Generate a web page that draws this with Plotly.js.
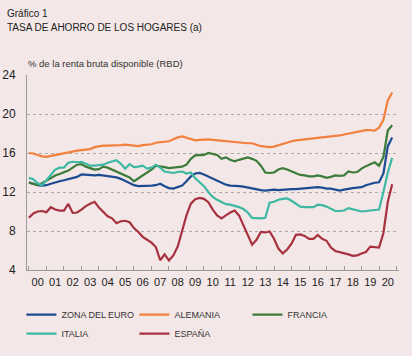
<!DOCTYPE html>
<html>
<head>
<meta charset="utf-8">
<script src="https://cdn.plot.ly/plotly-3.0.1.min.js"></script>
<style>
html,body{margin:0;padding:0;background:#F3E7E7;}
#chart{width:412px;height:356px;}
</style>
</head>
<body>
<div id="chart"></div>
<script>
// Years 2000..2020, quarterly observations (4 per year)
const years = [2000,2001,2002,2003,2004,2005,2006,2007,2008,2009,2010,2011,2012,2013,2014,2015,2016,2017,2018,2019,2020];
const yearLabels = ["00","01","02","03","04","05","06","07","08","09","10","11","12","13","14","15","16","17","18","19","20"];

const zonaEuro = [
  13.0,12.85,12.7,12.65, 12.7,12.85,13.0,13.1, 13.2,13.3,13.4,13.55, 13.8,13.75,13.7,13.7,
  13.75,13.7,13.65,13.6, 13.5,13.35,13.15,12.95, 12.7,12.6,12.6,12.65, 12.65,12.7,12.85,12.6,
  12.4,12.35,12.5,12.65, 13.1,13.6,13.9,13.95, 13.8,13.6,13.4,13.2, 12.95,12.75,12.65,12.65,
  12.6,12.55,12.45,12.35, 12.25,12.2,12.15,12.2, 12.25,12.2,12.25,12.3, 12.3,12.3,12.35,12.35,
  12.4,12.45,12.5,12.45, 12.35,12.35,12.25,12.15, 12.25,12.35,12.4,12.45, 12.5,12.7,12.85,12.95,
  13.0,13.9,16.7,17.6
];
const alemania = [
  16.0,15.95,15.8,15.65, 15.6,15.7,15.8,15.9, 16.0,16.1,16.2,16.25, 16.3,16.35,16.4,16.6,
  16.7,16.75,16.75,16.75, 16.8,16.8,16.85,16.8, 16.75,16.7,16.8,16.85, 16.9,17.05,17.1,17.15,
  17.2,17.4,17.6,17.7, 17.55,17.4,17.3,17.35, 17.4,17.4,17.35,17.3, 17.25,17.2,17.15,17.1,
  17.05,17.05,17.0,17.0, 16.85,16.7,16.65,16.6, 16.65,16.8,16.95,17.1, 17.2,17.3,17.35,17.4,
  17.45,17.5,17.55,17.55, 17.6,17.65,17.7,17.8, 17.9,18.0,18.1,18.2, 18.3,18.35,18.35,18.3,
  18.6,19.4,21.4,22.2
];
const francia = [
  12.95,12.8,12.7,12.9, 13.15,13.4,13.7,13.85, 14.0,14.2,14.5,14.8, 14.85,14.6,14.45,14.3,
  14.35,14.6,14.5,14.3, 14.1,13.9,13.75,13.5, 13.1,13.4,13.7,14.0, 14.3,14.7,14.65,14.55,
  14.45,14.5,14.55,14.6, 14.8,15.4,15.75,15.8, 15.8,16.0,15.9,15.8, 15.4,15.55,15.3,15.15,
  15.3,15.4,15.55,15.4, 15.2,14.7,14.0,13.95, 14.0,14.3,14.45,14.3, 14.1,13.9,13.75,13.7,
  13.6,13.6,13.7,13.6, 13.45,13.55,13.7,13.65, 13.7,14.1,14.0,14.05, 14.4,14.65,14.85,15.05,
  14.7,15.6,18.3,18.85
];
const italia = [
  13.45,13.3,12.9,12.7, 13.2,13.8,14.3,14.5, 14.5,15.0,15.1,15.05, 15.1,14.9,14.7,14.7,
  14.75,14.8,15.0,15.15, 15.25,14.9,14.4,14.85, 14.55,14.6,14.7,14.4, 14.5,14.8,14.5,14.1,
  14.0,13.95,14.05,14.1, 13.9,14.0,13.4,13.0, 12.6,12.0,11.5,11.2, 10.95,10.75,10.7,10.6,
  10.45,10.25,9.9,9.35, 9.3,9.3,9.35,10.9, 11.0,11.2,11.3,11.35, 11.1,10.8,10.5,10.45,
  10.45,10.45,10.7,10.65, 10.5,10.3,10.05,10.05, 10.1,10.35,10.25,10.1, 10.0,10.05,10.1,10.1,
  10.2,12.0,14.0,15.5
];
const espana = [
  9.35,9.8,10.0,10.05, 9.93,10.44,10.2,10.1, 10.1,10.78,9.86,9.9, 10.2,10.55,10.8,11.0,
  10.4,10.0,9.5,9.3, 8.8,9.0,9.05,8.9, 8.3,7.9,7.4,7.1, 6.8,6.35,5.0,5.6,
  4.98,5.5,6.4,8.0, 9.6,10.8,11.25,11.4, 11.3,10.96,10.2,9.6, 9.3,9.6,9.9,10.1,
  9.6,8.6,7.6,6.6, 7.1,7.9,7.85,7.95, 7.2,6.2,5.7,6.1, 6.7,7.6,7.65,7.5,
  7.2,7.2,7.6,7.2, 7.0,6.3,5.95,5.85, 5.75,5.6,5.45,5.5, 5.7,5.85,6.4,6.35,
  6.3,7.8,11.0,12.8
];

const seriesNames = ["ZONA DEL EURO","ALEMANIA","FRANCIA","ITALIA","ESPAÑA"];
const seriesColors = ["#1D4B92","#F2803E","#3C7B3A","#3DB9A3","#A7313F"];
const seriesData = [zonaEuro, alemania, francia, italia, espana];
const yTicks = [4,8,12,16,20,24];

// quarter positions on the time axis
const xq = [];
years.forEach(y => { for (let q = 0; q < 4; q++) xq.push(y + q/4); });

const traces = seriesData.map((vals, i) => ({
  type: 'scatter', mode: 'lines',
  x: xq.slice(0, vals.length), y: vals,
  name: seriesNames[i],
  line: {color: seriesColors[i], width: 2.2},
  hoverinfo: 'skip'
}));

const FONT = '"Liberation Sans", Arial, Helvetica, sans-serif';
const bg = '#F3E7E7';

const layout = {
  width: 412, height: 356,
  paper_bgcolor: bg, plot_bgcolor: bg,
  margin: {l: 27, r: 13, t: 75, b: 86, autoexpand: false},
  font: {family: FONT, color: '#222', size: 10},
  showlegend: true,
  xaxis: {
    range: [1999.89, 2021.14],
    tickmode: 'array',
    tickvals: years.map(y => y + 0.5),
    ticktext: yearLabels,
    ticks: '',
    tickfont: {size: 11, color: '#222'},
    ticklabelstandoff: 2,
    showgrid: false, zeroline: false,
    showline: true, linecolor: '#9A9A9A', linewidth: 1,
    minor: {
      tickmode: 'array',
      tickvals: years.concat([2021]),
      ticks: 'inside', ticklen: 4, tickcolor: '#9A9A9A', tickwidth: 1,
      showgrid: false
    },
    automargin: false,
    fixedrange: true
  },
  yaxis: {
    range: [4, 24],
    tickmode: 'array', tickvals: yTicks,
    ticks: '',
    tickfont: {size: 12, color: '#222'},
    ticklabelstandoff: 8,
    showgrid: true, gridcolor: '#ABABAB', gridwidth: 1, griddash: '3px,3px',
    zeroline: false,
    showline: true, linecolor: '#9A9A9A', linewidth: 1,
    automargin: false,
    fixedrange: true
  },
  legend: {
    orientation: 'h',
    xref: 'container', yref: 'container',
    x: 0.052, y: 0.157, xanchor: 'left', yanchor: 'top',
    entrywidth: 68, entrywidthmode: 'pixels',
    itemwidth: 30,
    font: {size: 9, color: '#333', family: FONT},
    bgcolor: 'rgba(0,0,0,0)',
    tracegroupgap: 0
  },
  annotations: [
    {text: 'Gráfico 1', xref: 'paper', yref: 'paper', x: -0.058, y: 1.316,
     xanchor: 'left', yanchor: 'middle', showarrow: false, font: {size: 10, color: '#222'}},
    {text: 'TASA DE AHORRO DE LOS HOGARES (a)', xref: 'paper', yref: 'paper', x: -0.058, y: 1.245,
     xanchor: 'left', yanchor: 'middle', showarrow: false, font: {size: 10, color: '#222'}},
    {text: '% de la renta bruta disponible (RBD)', xref: 'paper', yref: 'paper', x: -0.004, y: 1.058,
     xanchor: 'left', yanchor: 'middle', showarrow: false, font: {size: 9.5, color: '#333'}}
  ]
};

Plotly.newPlot('chart', traces, layout, {displayModeBar: false, staticPlot: true});
</script>
</body>
</html>
